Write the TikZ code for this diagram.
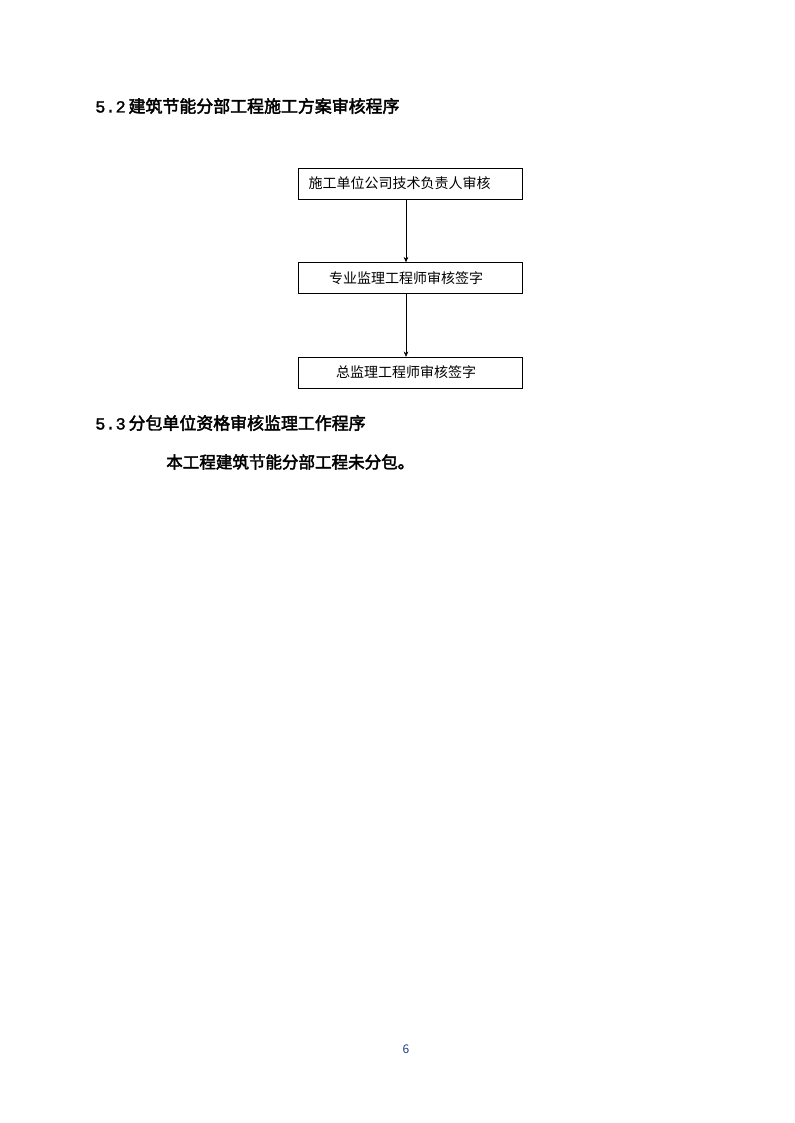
\documentclass[tikz,border=0pt]{standalone}
\usepackage{fontspec}
\usetikzlibrary{positioning,arrows.meta}
\newfontfamily\cjk{Noto Sans CJK SC}
\newfontfamily\cjkhead{Noto Sans CJK SC}[FakeBold=2.5]
\newfontfamily\headnum{Liberation Mono}[FakeBold=1.5]
\definecolor{PageBlue}{HTML}{1F3A8A}

\begin{document}
\begin{tikzpicture}[x=0.75pt,y=-0.75pt,node distance=47.25pt,>={Stealth[length=4pt,width=3.5pt]}]
\tikzstyle{stepbox}=[rectangle,draw,minimum width=168pt,minimum height=23.25pt,inner sep=0pt,font=\cjk\fontsize{10.5pt}{12pt}\selectfont]
\tikzstyle{heading}=[anchor=west,inner sep=0pt,font=\cjkhead\fontsize{12.7pt}{14pt}\selectfont]
\useasboundingbox (0,0) rectangle (794,1123);
\node[heading] (h52) at (95,106) {{\headnum 5.2}\,建筑节能分部工程施工方案审核程序};
\node[stepbox,text width=152pt,inner xsep=8pt,align=left] (unit) at (410,183.5) {施工单位公司技术负责人审核};
\node[stepbox,below=of unit] (spec) {专业监理工程师审核签字\hspace*{6pt}};
\node[stepbox,below=of spec] (chief) {总监理工程师审核签字\hspace*{6pt}};
\draw[->] ([xshift=-3pt]unit.south)--([xshift=-3pt]spec.north);
\draw[->] ([xshift=-3pt]spec.south)--([xshift=-3pt]chief.north);
\node[heading] (h53) at (95,423) {{\headnum 5.3}\,分包单位资格审核监理工作程序};
\node[heading,font=\cjkhead\fontsize{12.4pt}{14pt}\selectfont] (note) at (166,462) {本工程建筑节能分部工程未分包。};
\node[text=PageBlue,font=\cjk\fontsize{9pt}{10pt}\selectfont] (page) at (406,1049) {6};
\end{tikzpicture}
\end{document}
